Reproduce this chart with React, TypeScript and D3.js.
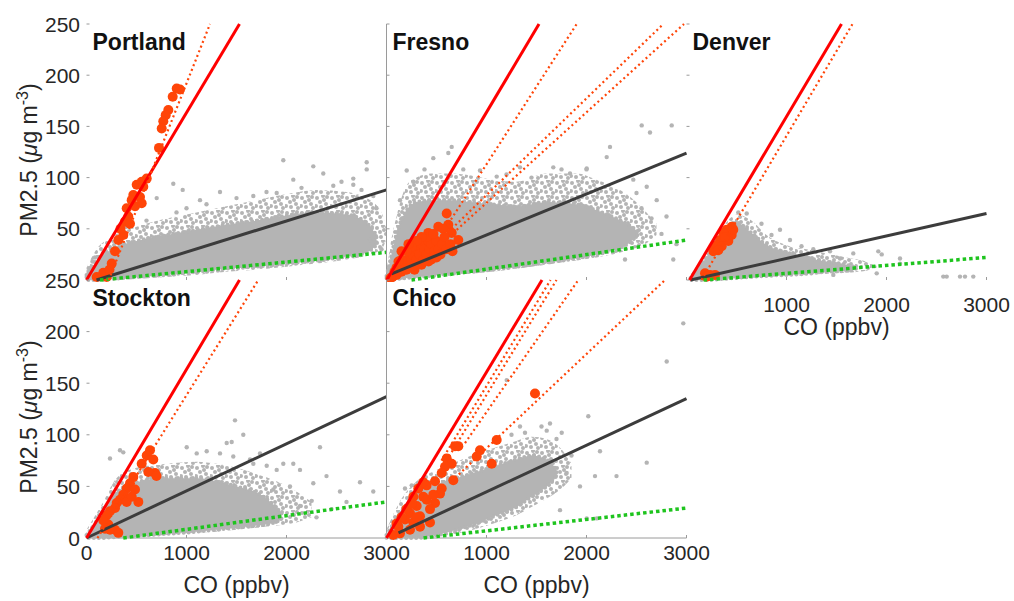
import React from "react";
import * as d3 from "d3";

const cities = ["Portland", "Fresno", "Denver", "Stockton", "Chico"];
const xTicks = [0, 1000, 2000, 3000];
const yTicks = [0, 50, 100, 150, 200, 250];

// fitted lines per city, [x0, y0, x1, y1] in ppbv and ug m-3
const redFit = [
  [0, 0, 1530, 250],
  [3, 0, 1525, 250],
  [30, 0, 1550, 250],
  [0, 0, 1530, 250],
  [0, 0, 1555, 250],
];
const blackFit = [
  [100, 0, 3000, 88],
  [50, 6, 3000, 124],
  [40, 0, 3000, 65],
  [0, 0, 3000, 137],
  [120, 5, 3000, 135],
];
const greenFit = [
  [135, 0, 3000, 27],
  [250, 0, 3000, 39],
  [170, 0, 3000, 22],
  [368, 0, 3000, 35],
  [370, 0, 3000, 29],
];
const plumeFits = [
  [[222, 0, 1235, 250]],
  [[618, 55, 1902, 250], [652, 50, 2768, 250], [702, 49, 2975, 250]],
  [[150, 0, 1660, 250]],
  [[110, 0, 1718, 250]],
  [[550, 75, 1640, 250], [600, 75, 1700, 250], [785, 92, 1918, 250], [650, 55, 2785, 250]],
];

// solid core of the grey cloud: [CO, lower PM, upper PM]
const portlandCore = [
  [0, 0, 5], [100, 0, 18], [250, 1, 30], [500, 3, 38], [800, 5, 44], [1100, 8, 49],
  [1400, 11, 54], [1700, 13, 58], [2000, 16, 63], [2300, 19, 66], [2600, 23, 64],
  [2800, 27, 56], [2900, 34, 44],
];
const fresnoCore = [
  [0, 0, 4], [40, 0, 20], [100, 1, 45], [200, 2, 68], [300, 3, 76], [450, 4, 78],
  [650, 6, 78], [850, 8, 76], [1050, 10, 74], [1300, 13, 72], [1600, 17, 76],
  [1900, 21, 74], [2100, 25, 68], [2300, 30, 60], [2450, 38, 52], [2520, 45, 47],
];
const denverCore = [
  [40, 0, 2], [200, 0, 22], [350, 1, 42], [500, 2, 56], [650, 3, 46], [800, 4, 34],
  [1000, 5, 27], [1200, 6, 22], [1400, 8, 18], [1600, 9, 15], [1700, 11, 12],
];
const stocktonCore = [
  [0, 0, 3], [150, 0, 22], [300, 1, 44], [500, 2, 54], [800, 4, 58], [1100, 6, 58],
  [1300, 8, 55], [1500, 10, 50], [1700, 12, 44], [1850, 14, 34], [1950, 18, 24],
];
const chicoCore = [
  [0, 0, 3], [150, 0, 26], [300, 0, 42], [500, 3, 52], [700, 8, 58], [900, 14, 64],
  [1100, 22, 70], [1300, 30, 76], [1450, 40, 80], [1600, 50, 76], [1700, 60, 66],
];

// looser halo of grey points around the core: [CO, lower PM, upper PM]
const portlandHalo = [
  [0, 0, 12], [100, 0, 30], [250, 0, 42], [500, 1, 52], [800, 3, 60], [1100, 5, 66],
  [1400, 8, 72], [1700, 10, 78], [2000, 13, 84], [2300, 16, 88], [2600, 20, 86],
  [2800, 24, 80], [2950, 30, 66], [3000, 40, 50],
];
const fresnoHalo = [
  [0, 0, 8], [40, 0, 35], [100, 0, 62], [200, 1, 92], [300, 2, 100], [450, 3, 104],
  [650, 5, 104], [850, 6, 102], [1050, 8, 98], [1300, 11, 96], [1600, 15, 104],
  [1900, 19, 104], [2100, 22, 98], [2300, 26, 90], [2450, 30, 80], [2600, 36, 66],
  [2700, 44, 55],
];
const denverHalo = [
  [40, 0, 5], [200, 0, 28], [350, 0, 50], [500, 1, 64], [650, 2, 58], [800, 3, 44],
  [1000, 4, 34], [1200, 5, 30], [1400, 6, 26], [1600, 7, 22], [1800, 9, 18], [1900, 12, 14],
];
const stocktonHalo = [
  [0, 0, 8], [150, 0, 32], [300, 0, 58], [500, 1, 68], [800, 3, 72], [1100, 5, 74],
  [1300, 6, 72], [1500, 8, 68], [1700, 10, 62], [1900, 12, 55], [2100, 15, 45],
  [2250, 20, 35],
];
const chicoHalo = [
  [0, 0, 8], [150, 0, 38], [300, 0, 55], [500, 1, 66], [700, 4, 74], [900, 9, 82],
  [1100, 15, 88], [1300, 22, 94], [1450, 30, 98], [1600, 38, 96], [1750, 48, 86],
  [1850, 58, 72],
];

// sparse grey points outside the cloud
const portlandGray = [
  [1968, 117], [2268, 111], [2802, 115], [868, 94], [962, 88], [1335, 86], [1902, 85],
  [2068, 98], [2368, 104], [2668, 93], [2802, 108], [1135, 78], [702, 80], [1668, 82],
  [2468, 92], [2668, 99], [2835, 39], [2868, 82], [2950, 30], [1500, 80], [1200, 74],
  [900, 66], [2150, 90], [2550, 96], [600, 58], [2900, 70], [2750, 88], [1800, 86],
  [60, 18], [85, 22], [40, 12], [400, 52], [1000, 70],
];
const fresnoGray = [
  [618, 124], [468, 119], [652, 130], [2235, 130], [2552, 151], [2852, 151], [2635, 144],
  [2202, 120], [2002, 109], [2468, 98], [2602, 91], [2702, 78], [2385, 20], [2868, 20],
  [1335, 110], [1668, 110], [1835, 104], [935, 107], [1102, 101], [768, 108], [202, 107],
  [268, 96], [135, 78], [2650, 60], [2750, 45], [1450, 100], [1200, 103], [2000, 108],
  [1750, 108], [380, 108], [2900, 35], [2550, 70], [2800, 62], [2500, 85],
];
const denverGray = [
  [1918, 28], [2135, 21], [2135, 16], [1902, 6.5], [1668, 26], [2568, 3.3], [2602, 3.3],
  [2785, 3.3], [2868, 3.3], [1468, 5], [1035, 39], [935, 49], [602, 65], [518, 66],
  [1952, 25], [1268, 30], [1435, 28], [1535, 21], [2735, 3.3], [750, 55], [1150, 33],
  [850, 44],
];
const stocktonGray = [
  [1485, 114], [1568, 100], [1402, 92], [1452, 93], [1335, 82], [1202, 84], [1002, 88],
  [1102, 82], [235, 77], [335, 85], [368, 83], [1735, 82], [1968, 72], [2068, 72],
  [2268, 53], [2335, 88], [2735, 54], [2868, 45], [2535, 45], [2252, 36], [2135, 31],
  [2035, 50], [1802, 70], [1902, 66], [1668, 72], [1468, 79], [1635, 76], [2135, 66],
  [1868, 47], [2400, 60], [2600, 35], [2450, 28], [2300, 20],
];
const chicoGray = [
  [2968, 208], [2802, 171], [2602, 73], [2135, 84], [2085, 60], [2018, 118], [1752, 102],
  [1385, 102], [1202, 153], [1635, 111], [1735, 27], [2002, 19], [2102, 19], [1935, 50],
  [1802, 63], [1602, 104], [1335, 108], [185, 48], [252, 51], [368, 43], [1550, 108],
  [1700, 96], [1850, 80], [1100, 96], [1250, 100], [2300, 60],
];

// plume-influenced points (orange)
const portlandPlume = [
  [902, 187], [935, 186], [862, 179], [818, 166], [792, 161], [768, 155], [752, 148],
  [725, 129], [602, 99], [552, 96], [502, 93], [535, 81], [468, 83], [552, 75], [485, 72],
  [402, 70], [418, 62], [385, 57], [435, 55], [368, 44], [318, 39], [285, 28], [252, 16],
  [168, 7], [102, 3], [202, 3], [452, 78], [568, 91], [340, 50], [230, 10],
];
const fresnoPlume = [
  [602, 65], [518, 52], [618, 54], [718, 39], [418, 46], [368, 36], [485, 38], [568, 50],
  [652, 46], [60, 3], [100, 5], [120, 10], [150, 8], [180, 15], [200, 10], [220, 20],
  [250, 15], [260, 25], [300, 20], [300, 30], [330, 25], [350, 35], [370, 20], [380, 30],
  [400, 25], [420, 38], [430, 30], [450, 20], [450, 35], [480, 28], [500, 38], [520, 30],
  [540, 25], [400, 42], [350, 42], [300, 38], [250, 32], [200, 28], [150, 20], [100, 12],
  [80, 8], [40, 2], [560, 35], [470, 45], [600, 30], [150, 28], [120, 18], [220, 35],
  [280, 10], [350, 15], [420, 18], [500, 22], [640, 35], [580, 42], [660, 28],
];
const denverPlume = [
  [452, 52], [435, 46], [402, 49], [368, 46], [335, 39], [285, 31], [268, 28], [302, 34],
  [402, 39], [452, 44], [352, 33], [418, 38], [468, 49], [318, 29], [385, 42], [185, 6.5],
  [235, 5], [285, 5], [202, 3.3],
];
const stocktonPlume = [
  [635, 85], [602, 80], [552, 72], [668, 76], [685, 63], [618, 64], [468, 59], [435, 53],
  [402, 48], [368, 42], [335, 37], [302, 34], [285, 29], [235, 26], [202, 22], [518, 35],
  [402, 35], [218, 13], [185, 9], [285, 8], [318, 5], [235, 8], [485, 47], [452, 40],
  [168, 17], [700, 60],
];
const chicoPlume = [
  [1102, 95], [718, 89], [685, 89], [935, 85], [902, 79], [1052, 72], [602, 77], [652, 72],
  [585, 69], [668, 56], [552, 48], [485, 55], [268, 40], [485, 34], [435, 28], [335, 21],
  [435, 15], [235, 8], [135, 4.5], [68, 3], [368, 40], [402, 37], [302, 31], [235, 24],
  [185, 18], [118, 11], [335, 11], [268, 15], [535, 43], [468, 42], [552, 63], [402, 51],
  [318, 48], [368, 54], [1485, 140], [200, 28], [150, 20], [100, 14], [300, 20], [250, 33],
];

const cores = [portlandCore, fresnoCore, denverCore, stocktonCore, chicoCore];
const halos = [portlandHalo, fresnoHalo, denverHalo, stocktonHalo, chicoHalo];
const grays = [portlandGray, fresnoGray, denverGray, stocktonGray, chicoGray];
const plumes = [portlandPlume, fresnoPlume, denverPlume, stocktonPlume, chicoPlume];

// grid position of each city [col, row]
const layout = [[0, 0], [1, 0], [2, 0], [0, 1], [1, 1]];
const rowTop = [24, 280];
const rowBottom = [280, 538];
const colLeft = (c: number) => 86.5 + c * 300;

const FONT = "'Liberation Sans', Arial, Helvetica, sans-serif";
const TXT = "#262626";
const AXIS = "#9a9a9a";
const GRAY = "#b4b4b4";
const ORANGE = "#ff4508";

// dot spots inside one tile of the halo texture
const speckle = [
  [2, 3], [8, 1], [5, 7], [11, 9], [1, 11], [9, 5], [13, 13], [6, 12], [12, 2],
];

const Panel = ({ i }: { i: number }) => {
  const [c, r] = layout[i];
  const x0 = colLeft(c);
  const x = d3.scaleLinear().domain([0, 3000]).range([x0, x0 + 300]);
  const y = d3.scaleLinear().domain([0, 250]).range([rowBottom[r], rowTop[r]]);

  const area = d3
    .area<number[]>()
    .x((d) => x(d[0]))
    .y0((d) => y(d[1]))
    .y1((d) => y(d[2]))
    .curve(d3.curveMonotoneX);

  const seg = (f: number[]) => `M${x(f[0])},${y(f[1])}L${x(f[2])},${y(f[3])}`;
  const clip = `clip-${i}`;
  const showY = c === 0;
  const showX = r === 1 || i === 2;
  const tickLabelY = i === 2 ? y(0) + 32 : y(0) + 22;

  // labels hidden under the neighbouring panel's labels are skipped
  const yLabels = r === 0 ? yTicks.filter((t) => t !== 0) : yTicks;
  const xLabels = c === 0 ? xTicks : xTicks.filter((t) => t !== 0);

  return (
    <g>
      <defs>
        <clipPath id={clip}>
          <rect x={x0 - 6} y={rowTop[r] - 1} width={312} height={rowBottom[r] - rowTop[r] + 3} />
        </clipPath>
      </defs>

      {/* axes */}
      {c === 1 && (
        <line x1={x0} x2={x0} y1={rowTop[r]} y2={rowBottom[r]} stroke={AXIS} strokeWidth={1} />
      )}
      {r === 1 && (
        <line x1={x0} x2={x0 + 300} y1={y(0)} y2={y(0)} stroke={AXIS} strokeWidth={1} />
      )}
      {yTicks.map((t) => (
        <line key={"yt" + t} x1={x0} x2={x0 + 3} y1={y(t)} y2={y(t)} stroke={AXIS} />
      ))}
      {xTicks.map((t) => (
        <line key={"xt" + t} x1={x(t)} x2={x(t)} y1={y(0)} y2={y(0) - 3} stroke={AXIS} />
      ))}

      <g clipPath={`url(#${clip})`}>
        <path d={area(halos[i]) || ""} fill="url(#speckle)" />
        <path
          d={area(cores[i]) || ""}
          fill={GRAY}
          stroke={GRAY}
          strokeWidth={4}
          strokeDasharray="0 5"
          strokeLinecap="round"
        />
        {grays[i].map((d, k) => (
          <circle key={"g" + k} cx={x(d[0])} cy={y(d[1])} r={2.2} fill={GRAY} />
        ))}
        {plumes[i].map((d, k) => (
          <circle key={"o" + k} cx={x(d[0])} cy={y(d[1])} r={5} fill={ORANGE} />
        ))}
        <path d={seg(blackFit[i])} stroke="#3c3c3c" strokeWidth={3} fill="none" />
        <path
          d={seg(greenFit[i])}
          stroke="#1ec41e"
          strokeWidth={3.5}
          strokeDasharray="3.5 3"
          fill="none"
        />
        <path d={seg(redFit[i])} stroke="#ff0000" strokeWidth={3} fill="none" />
        {plumeFits[i].map((f, k) => (
          <path
            key={"p" + k}
            d={seg(f)}
            stroke={ORANGE}
            strokeWidth={2.2}
            strokeDasharray="2 3"
            fill="none"
          />
        ))}
      </g>

      {/* tick labels */}
      {showY &&
        yLabels.map((t) => (
          <text key={"yl" + t} x={80} y={y(t) + 7.5} textAnchor="end" fontSize={21} fill={TXT} fontFamily={FONT}>
            {t}
          </text>
        ))}
      {showX &&
        xLabels.map((t) => (
          <text key={"xl" + t} x={x(t)} y={tickLabelY} textAnchor="middle" fontSize={21} fill={TXT} fontFamily={FONT}>
            {t}
          </text>
        ))}
      {showX && (
        <text x={x(1500)} y={y(0) + 55} textAnchor="middle" fontSize={23} fill={TXT} fontFamily={FONT}>
          CO (ppbv)
        </text>
      )}
      {showY && (
        <text
          transform={`translate(37,${(rowTop[r] + rowBottom[r]) / 2 + 8}) rotate(-90)`}
          textAnchor="middle"
          fontSize={23}
          fill={TXT}
          fontFamily={FONT}
        >
          PM2.5 (<tspan fontStyle="italic">μ</tspan>g m
          <tspan dy={-9} fontSize={16}>-3</tspan>
          <tspan dy={9}>)</tspan>
        </text>
      )}
      <text x={x0 + 6} y={rowTop[r] + 26} fontSize={23} fontWeight="bold" fill="#111" fontFamily={FONT}>
        {cities[i]}
      </text>
    </g>
  );
};

export default function App() {
  return (
    <svg
      width={1014}
      height={601}
      style={{ position: "absolute", left: 0, top: 0, background: "#fff" }}
    >
      <defs>
        <pattern id="speckle" width={15} height={15} patternUnits="userSpaceOnUse">
          {speckle.map((p, k) => (
            <circle key={k} cx={p[0]} cy={p[1]} r={2} fill={GRAY} />
          ))}
        </pattern>
      </defs>
      <rect width={1014} height={601} fill="#fff" />
      {cities.map((_, i) => (
        <Panel key={i} i={i} />
      ))}
    </svg>
  );
}
